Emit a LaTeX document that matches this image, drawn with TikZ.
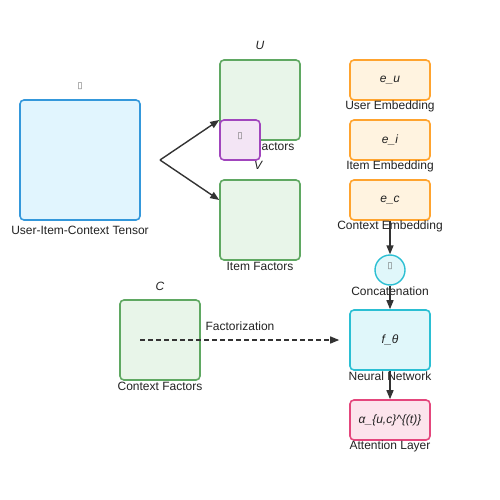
\documentclass[tikz,border=0pt]{standalone}
\usepackage{fontspec}
\setmainfont{Liberation Sans}
\newfontfamily\symfont{DejaVu Sans}
\usetikzlibrary{arrows.meta}
\definecolor{txt}{HTML}{222222}
\definecolor{arr}{HTML}{333333}
\definecolor{bluS}{HTML}{3498DB}\definecolor{bluF}{HTML}{E1F5FE}
\definecolor{grnS}{HTML}{5FA862}\definecolor{grnF}{HTML}{E8F5E9}
\definecolor{purS}{HTML}{A145BD}\definecolor{purF}{HTML}{F3E5F5}
\definecolor{orgS}{HTML}{FFA32E}\definecolor{orgF}{HTML}{FFF3E0}
\definecolor{cyaS}{HTML}{2BBFD3}\definecolor{cyaF}{HTML}{E0F7FA}
\definecolor{pnkS}{HTML}{E4467C}\definecolor{pnkF}{HTML}{FCE4EC}
\tikzset{
  box/.style={draw, line width=1.6pt, rounded corners=4pt, inner sep=0pt, font=\itshape\fontsize{12}{14}\selectfont, text=txt},
  tensorbox/.style={box, draw=bluS, fill=bluF, minimum width=120pt, minimum height=120pt},
  factorbox/.style={box, draw=grnS, fill=grnF, minimum width=80pt, minimum height=80pt},
  purbox/.style={box, draw=purS, fill=purF, minimum width=40pt, minimum height=40pt},
  embbox/.style={box, draw=orgS, fill=orgF, minimum width=80pt, minimum height=40pt},
  nnbox/.style={box, draw=cyaS, fill=cyaF, minimum width=80pt, minimum height=60pt},
  attbox/.style={box, draw=pnkS, fill=pnkF, minimum width=80pt, minimum height=40pt},
  concirc/.style={circle, draw=cyaS, fill=cyaF, line width=1.4pt, minimum size=30pt, inner sep=0pt},
  lbl/.style={font=\fontsize{12}{14}\selectfont, text=txt, inner sep=0pt},
  ilbl/.style={font=\itshape\fontsize{12}{14}\selectfont, text=txt, inner sep=0pt},
  tofu/.style={font=\symfont\fontsize{9}{10}\selectfont, text=black!60, inner sep=0pt},
  conn/.style={draw=arr, line width=1.4pt, -{Triangle[length=9pt,width=7pt]}},
}
\begin{document}
\begin{tikzpicture}[x=1pt,y=-1pt]
\useasboundingbox (0,0) rectangle (500,500);
% tensor
\node[tensorbox] (tensor) at (80,160) {};
\node[lbl] (tensorlbl) at (80,230) {User-Item-Context Tensor};
\node[tofu] (tensortofu) at (80,86) {▯};
% U factors
\node[factorbox] (U) at (260,100) {};
\node[ilbl] (Ulbl) at (260,45) {U};
\node[lbl] (Ufac) at (260,146) {User Factors};
% V factors
\node[factorbox] (V) at (260,220) {};
\node[ilbl] (Vlbl) at (258,165) {V};
\node[lbl] (Vfac) at (260,266) {Item Factors};
% purple overlay
\node[purbox] (pur) at (240,140) {};
\node[tofu] (purtofu) at (240,136) {▯};
% C factors
\node[factorbox] (C) at (160,340) {};
\node[ilbl] (Clbl) at (160,286) {C};
\node[lbl] (Cfac) at (160,386) {Context Factors};
% embeddings
\node[embbox] (eu) at (390,80) {e\_u};
\node[lbl] (eulbl) at (390,106) {User Embedding};
\node[embbox] (ei) at (390,140) {e\_i};
\node[lbl] (eilbl) at (390,166) {Item Embedding};
\node[embbox] (ec) at (390,200) {e\_c};
\node[lbl] (eclbl) at (390,226) {Context Embedding};
% concatenation
\node[concirc] (cat) at (390,270) {};
\node[tofu] (cattofu) at (390,266) {▯};
\node[lbl] (catlbl) at (390,291) {Concatenation};
% neural network
\node[nnbox] (nn) at (390,340) {f\_θ};
\node[lbl] (nnlbl) at (390,376) {Neural Network};
% attention
\node[attbox] (att) at (390,420) {α\_\{u,c\}\textasciicircum\{(t)\}};
\node[lbl] (attlbl) at (390,446) {Attention Layer};
% connectors
\coordinate (split) at (160,160);
\coordinate (Uin) at ([yshift=-20pt]U.west);
\coordinate (Vin) at ([yshift=20pt]V.west);
\draw[conn] (split) -- (Uin);
\draw[conn] (split) -- (Vin);
\draw[conn] (ec.south) -- (cat.north);
\draw[conn] (cat.south) -- (nn.north);
\draw[conn] (nn.south) -- (att.north);
\coordinate (dstart) at ([xshift=-20pt]C.center);
\coordinate (dend) at ([xshift=-10pt]nn.west);
\draw[conn, dash pattern=on 5pt off 3pt] (dstart) -- (dend);
\node[lbl] (factlbl) at (240,326) {Factorization};
\end{tikzpicture}
\end{document}
